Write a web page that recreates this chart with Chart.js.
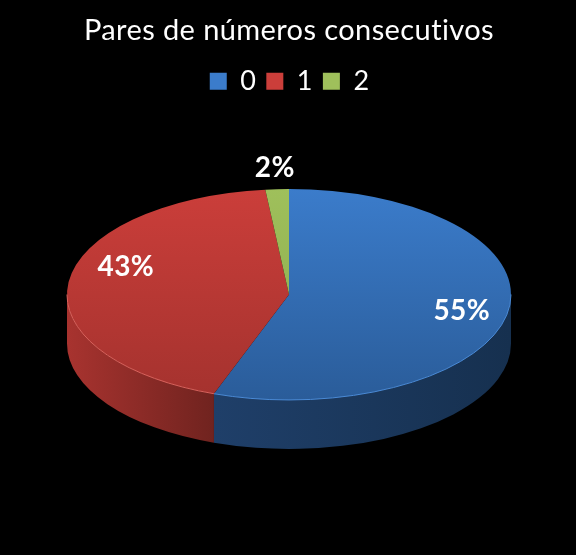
<!DOCTYPE html>
<html>
<head>
<meta charset="utf-8">
<style>
html, body { margin: 0; padding: 0; background: #000; }
canvas { display: block; }
</style>
<script src="https://cdn.jsdelivr.net/npm/chart.js@4"></script>
</head>
<body>
<canvas id="pieChart" width="576" height="555"></canvas>
<script>
// Chart data
var categories = ['0', '1', '2'];
var seriesValues = [55.49, 42.81, 1.7];

// Colours per slice
var legendColors = ['#3b78c4', '#c43c39', '#9bbb59'];
var topColors = ['#3b7ccb', '#cb3e3a', '#9fc05b'];
var bottomColors = ['#2a5c99', '#a4322e', '#8aa94c'];
var wallLeftColors = ['#1f3f69', '#a8332f', '#6f8a3e'];
var wallRightColors = ['#16304f', '#70231f', '#6f8a3e'];
var rimColors = ['#4a8ad6', '#d9625c', '#b0cf70'];

// Fake 3D: squash the pie into an ellipse and draw a wall below it
var tilt = 0.475;
var centerY = 294.5;
var depth = 49;

// Where the percentage labels sit
var labelRadial = [0.79, 0.74, 1.2];
var labelShift = [2, -18, 0];

function sliceFill(context) {
    var area = context.chart.chartArea;
    if (!area) {
        return legendColors[context.dataIndex];
    }
    var g = context.chart.ctx.createLinearGradient(0, area.top, 0, area.bottom);
    g.addColorStop(0, topColors[context.dataIndex]);
    g.addColorStop(1, bottomColors[context.dataIndex]);
    return g;
}

// Visible front part of a slice, in canvas angles between 0 and PI
function frontRange(arc) {
    var start = Math.max(arc.startAngle, 0);
    var end = Math.min(arc.endAngle, Math.PI);
    return start < end ? [start, end] : null;
}

var tiltPlugin = {
    id: 'tilt',
    beforeDraw: function(chart) {
        // stops Lato joining "ti" into a ligature in the title
        chart.ctx.letterSpacing = '0.4px';
    },
    beforeDatasetsDraw: function(chart) {
        var ctx = chart.ctx;
        var arcs = chart.getDatasetMeta(0).data;
        var cx = arcs[0].x;
        var r = arcs[0].outerRadius;

        arcs.forEach(function(arc, i) {
            var range = frontRange(arc);
            if (!range) {
                return;
            }
            var x0 = cx + r * Math.cos(range[1]);
            var x1 = cx + r * Math.cos(range[0]);
            var g = ctx.createLinearGradient(x0, 0, x1, 0);
            g.addColorStop(0, wallLeftColors[i]);
            g.addColorStop(1, wallRightColors[i]);
            ctx.beginPath();
            ctx.ellipse(cx, centerY, r, r * tilt, 0, range[0], range[1]);
            ctx.ellipse(cx, centerY + depth, r, r * tilt, 0, range[1], range[0], true);
            ctx.closePath();
            ctx.fillStyle = g;
            ctx.fill();
        });

        ctx.save();
        ctx.translate(cx, centerY);
        ctx.scale(1, tilt);
        ctx.translate(-cx, -arcs[0].y);
    },
    afterDatasetsDraw: function(chart) {
        var ctx = chart.ctx;
        ctx.restore();

        var arcs = chart.getDatasetMeta(0).data;
        var cx = arcs[0].x;
        var r = arcs[0].outerRadius;
        var total = seriesValues.reduce(function(a, b) { return a + b; }, 0);

        // light rim along the front edge
        arcs.forEach(function(arc, i) {
            var range = frontRange(arc);
            if (!range) {
                return;
            }
            ctx.beginPath();
            ctx.ellipse(cx, centerY, r, r * tilt, 0, range[0], range[1]);
            ctx.strokeStyle = rimColors[i];
            ctx.lineWidth = 1;
            ctx.stroke();
        });

        // percentage labels
        ctx.fillStyle = '#ffffff';
        ctx.font = 'bold 28px Lato';
        ctx.textAlign = 'center';
        ctx.textBaseline = 'middle';
        arcs.forEach(function(arc, i) {
            var mid = (arc.startAngle + arc.endAngle) / 2;
            var x = cx + r * labelRadial[i] * Math.cos(mid);
            var y = centerY + r * tilt * labelRadial[i] * Math.sin(mid) + labelShift[i];
            ctx.fillText(Math.round(seriesValues[i] / total * 100) + '%', x, y);
        });
    }
};

var pieCtx = document.getElementById('pieChart').getContext('2d');
var pieChart = new Chart(pieCtx, {
    type: 'pie',
    data: {
        labels: categories,
        datasets: [{
            data: seriesValues,
            backgroundColor: sliceFill,
            borderWidth: 0
        }]
    },
    options: {
        responsive: false,
        animation: false,
        layout: {
            padding: { left: 67, right: 65, top: 0, bottom: 0 }
        },
        plugins: {
            title: {
                display: true,
                text: 'Pares de números consecutivos',
                color: '#ffffff',
                font: { family: 'Lato', size: 29, weight: 'normal' },
                padding: { top: 13, bottom: 10 }
            },
            legend: {
                display: true,
                position: 'top',
                labels: {
                    color: '#ffffff',
                    font: { family: 'Lato', size: 27 },
                    boxWidth: 17,
                    boxHeight: 17,
                    padding: 10
                }
            },
            tooltip: { enabled: false }
        }
    },
    plugins: [tiltPlugin]
});
</script>
</body>
</html>
